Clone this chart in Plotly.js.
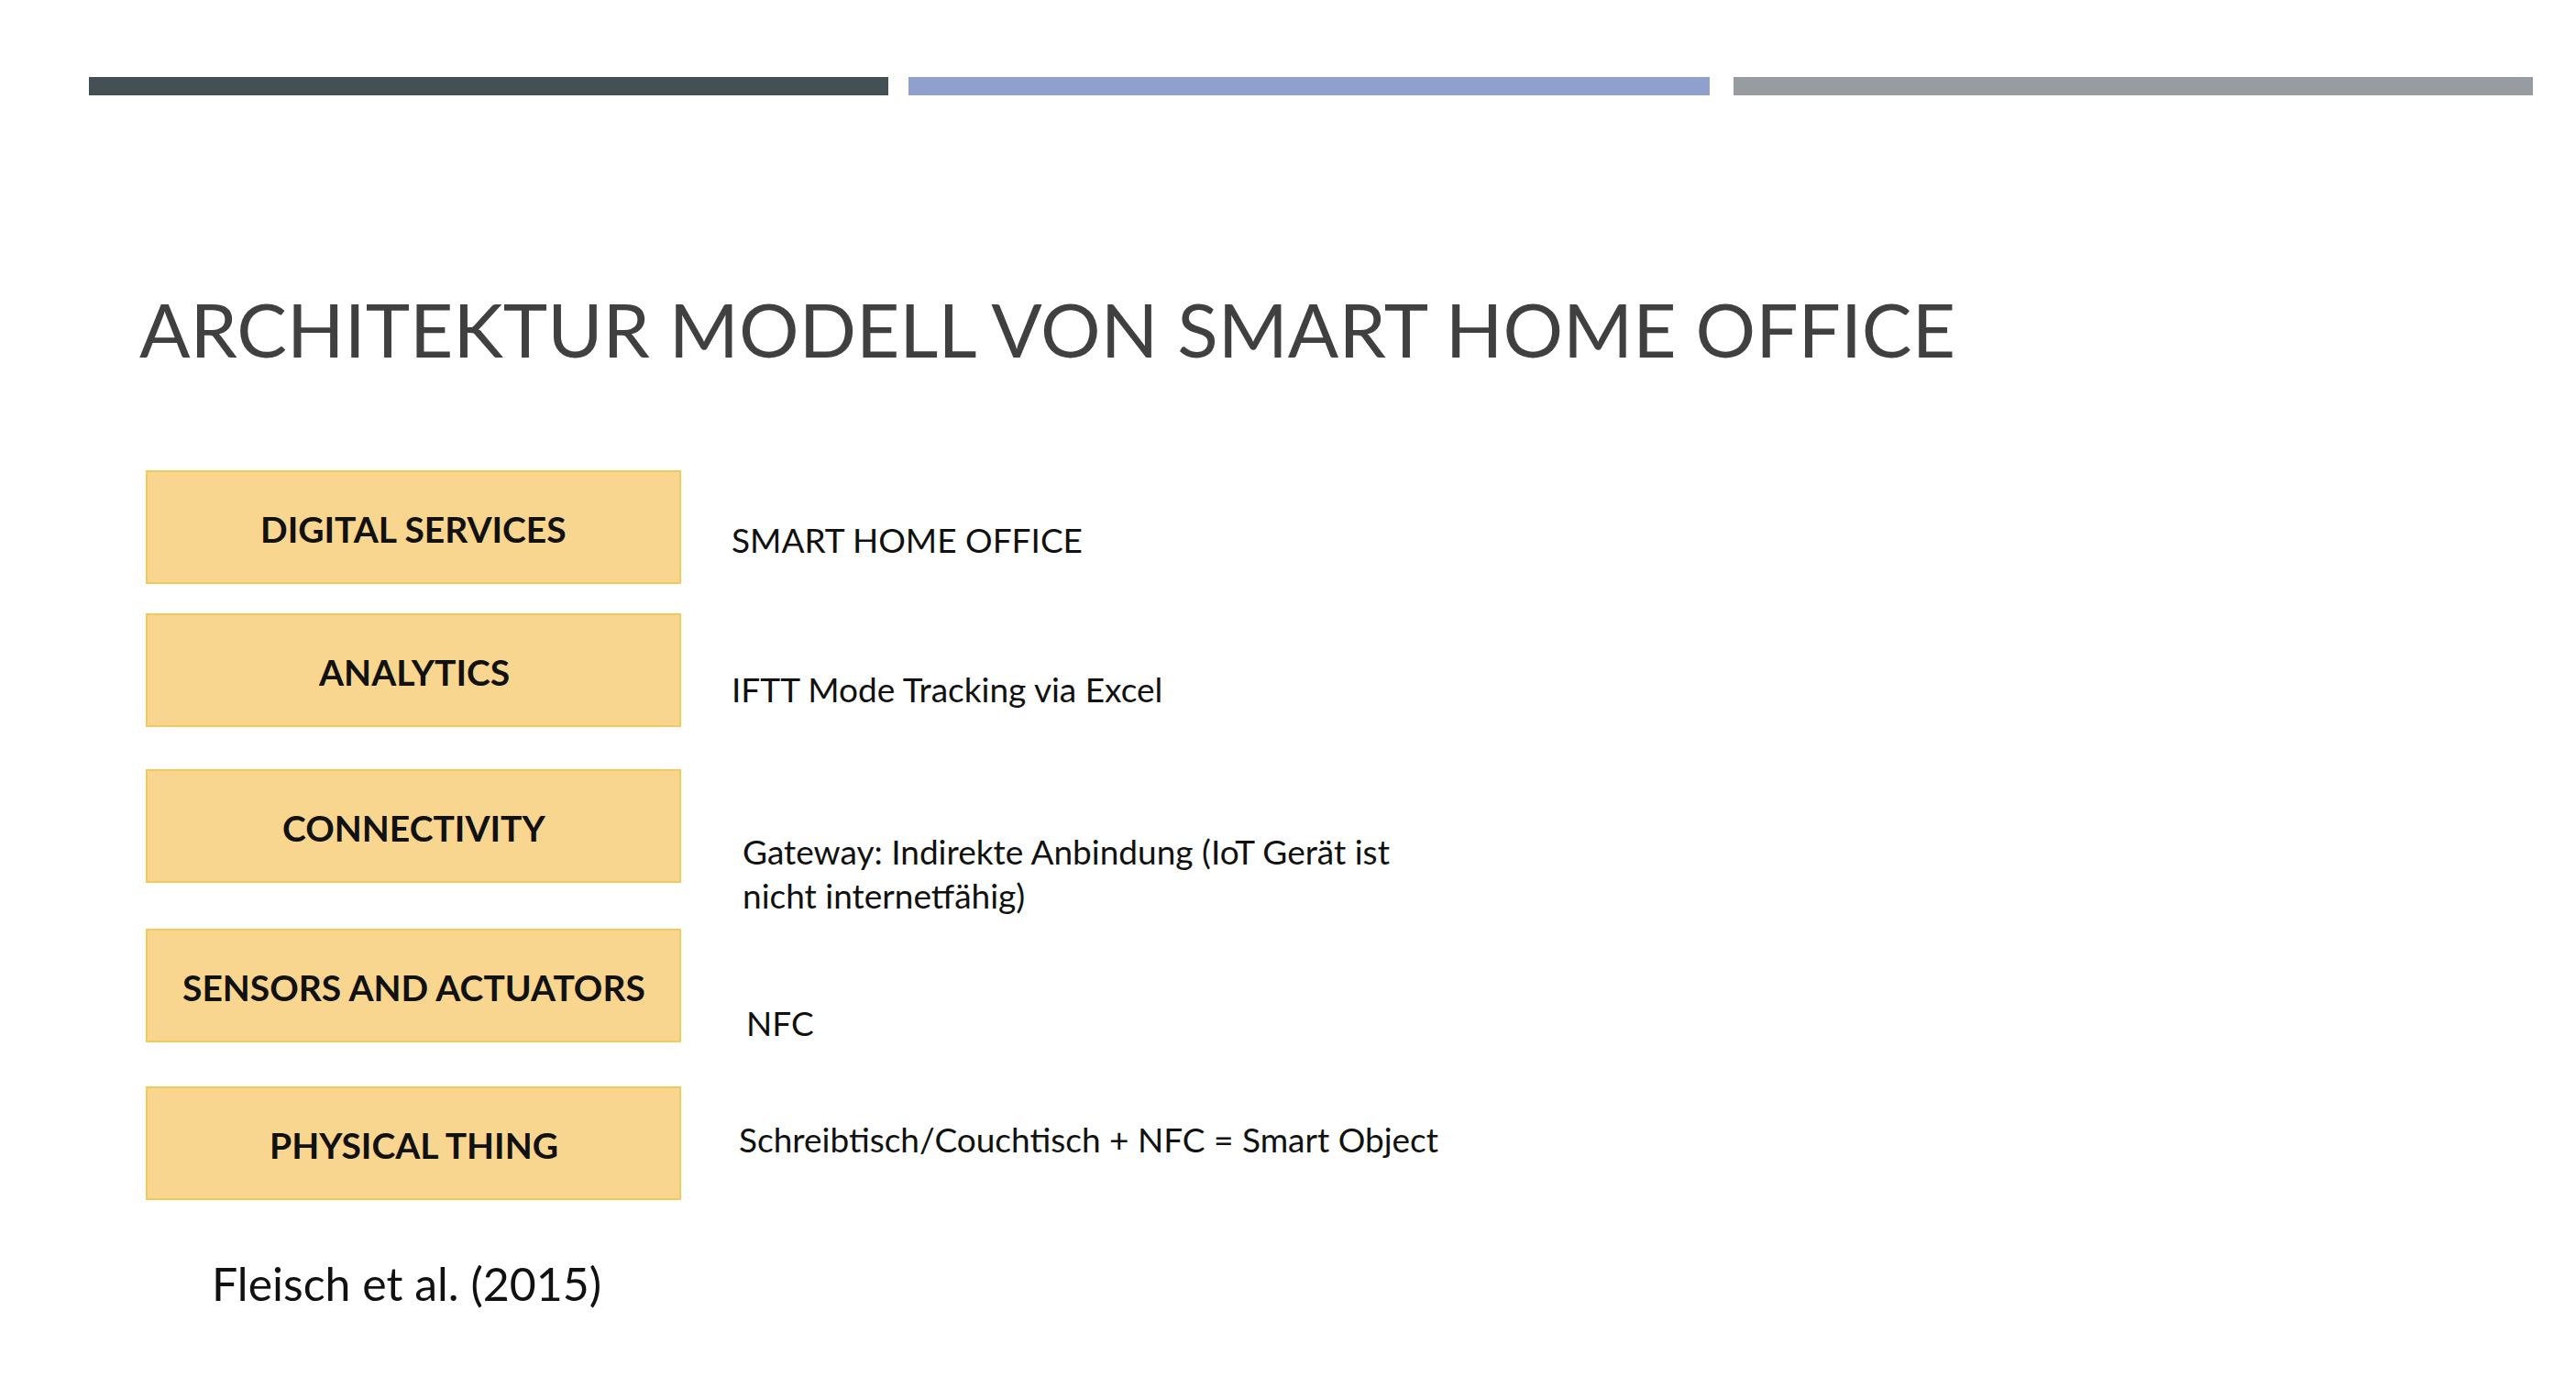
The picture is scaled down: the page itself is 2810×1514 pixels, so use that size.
<!DOCTYPE html>
<html>
<head>
<meta charset="utf-8">
<script src="https://cdn.plot.ly/plotly-3.0.1.min.js"></script>
<style>html,body{margin:0;padding:0;background:#fff}#chart{width:2810px;height:1514px}</style>
</head>
<body>
<div id="chart"></div>
<script>
// layer names (left boxes) and what they mean for the smart home office
const layers = ['DIGITAL SERVICES', 'ANALYTICS', 'CONNECTIVITY', 'SENSORS AND ACTUATORS', 'PHYSICAL THING'];
const descriptions = [
  'SMART HOME OFFICE',
  'IFTT Mode Tracking via Excel',
  'Gateway: Indirekte Anbindung (IoT Gerät ist<br>nicht internetfähig)',
  'NFC',
  'Schreibtisch/Couchtisch + NFC = Smart Object'
];
const boxTops = [514, 670, 840, 1014, 1186];
const descY = [588, 751, 952, 1115, 1242];
const descX = [796, 796, 808, 812, 804];
const topBars = [[97, 969, '#455055'], [991, 1865, '#8fa0cc'], [1891, 2763, '#969c9f']];

const font = 'Lato, "Noto Sans", sans-serif';
const shapes = [];
const annotations = [];

topBars.forEach(b => shapes.push({type: 'rect', xref: 'x', yref: 'y', x0: b[0], x1: b[1], y0: 84, y1: 104,
  fillcolor: b[2], line: {width: 0}}));

layers.forEach((name, i) => {
  shapes.push({type: 'rect', xref: 'x', yref: 'y', x0: 160, x1: 742, y0: boxTops[i], y1: boxTops[i] + 122,
    fillcolor: '#f8d690', line: {color: '#f4c95a', width: 2}});
  annotations.push({x: 451, y: boxTops[i] + 63, xref: 'x', yref: 'y', text: '<b>' + name + '</b>', showarrow: false,
    font: {family: font, size: 39, color: '#111'}});
  annotations.push({x: descX[i], y: descY[i], xref: 'x', yref: 'y', text: descriptions[i], showarrow: false,
    xanchor: 'left', align: 'left', font: {family: font, size: 37, color: '#111'}});
});

annotations.push({x: 150, y: 358, xref: 'x', yref: 'y', text: 'ARCHITEKTUR MODELL VON SMART HOME OFFICE',
  showarrow: false, xanchor: 'left', font: {family: font, size: 82, color: '#404040'}});
annotations.push({x: 443, y: 1400, xref: 'x', yref: 'y', text: 'Fleisch et al. (2015)', showarrow: false,
  font: {family: font, size: 50, color: '#111'}});

Plotly.newPlot('chart', [], {
  width: 2810, height: 1514,
  margin: {l: 0, r: 0, t: 0, b: 0},
  paper_bgcolor: '#fff', plot_bgcolor: '#fff',
  xaxis: {range: [0, 2810], visible: false, fixedrange: true},
  yaxis: {range: [1514, 0], visible: false, fixedrange: true},
  shapes, annotations, showlegend: false
}, {staticPlot: true});
</script>
</body>
</html>
